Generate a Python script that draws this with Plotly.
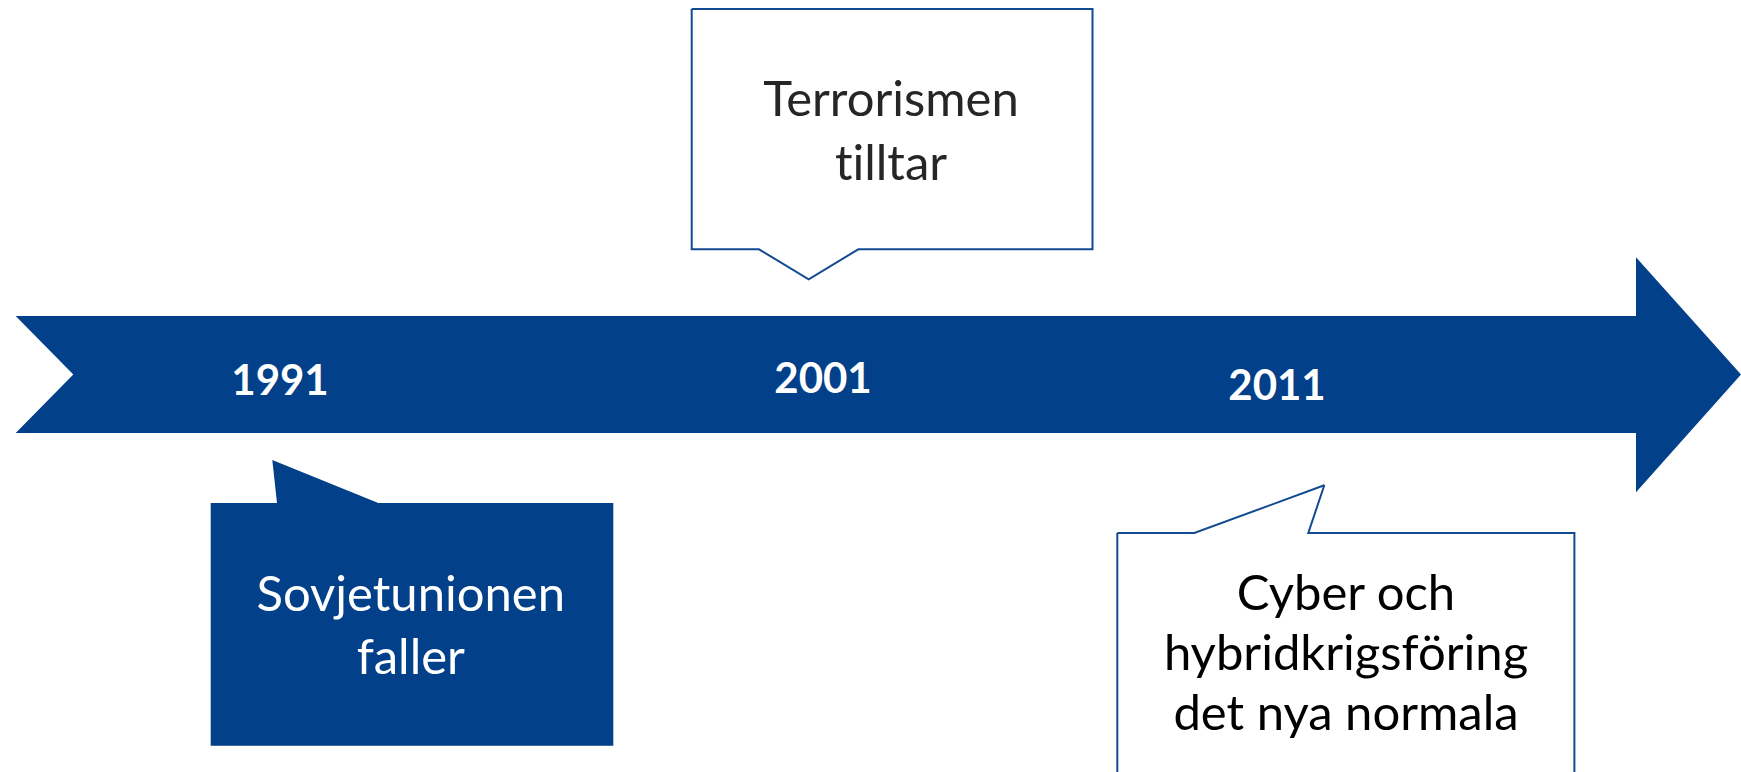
import plotly.graph_objects as go

# ---- data ----
years = ["1991", "2001", "2011"]
events = [
    "Sovjetunionen\nfaller",
    "Terrorismen\ntilltar",
    "Cyber och\nhybridkrigsföring\ndet nya normala",
]
event_styles = ["filled", "outline", "outline"]

# ---- layout constants (pixel canvas) ----
W, H = 1741, 772
BLUE = "#02408A"
EDGE = "#124B91"

# timeline arrow geometry
band_top, band_bot = 316, 433
band_left, notch_x = 15.7, 73.3
shaft_end, head_top, head_bot, tip_x = 1636, 257.3, 492.3, 1741
mid_y = (band_top + band_bot) / 2

year_x = [280, 823, 1277]
year_y = [384, 382, 389]

# callout boxes: (left, top, right, bottom, tail_start_x, tip_x, tip_y, tail_end_x)
boxes = [
    (210.7, 503, 613.3, 745.7, 277, 272.3, 460, 378.3),
    (691.7, 9, 1092.5, 249.3, 759, 808.7, 279.3, 858.3),
    (1117.3, 533, 1574.4, 790, 1194.3, 1324.3, 485.3, 1308.3),
]
text_cx = [410.8, 891, 1346]
text_base = [[612, 675], [117, 181], [610.7, 670.5, 731]]
text_colors = ["#FFFFFF", "#262626", "#000000"]

fig = go.Figure()

# arrow band
ax = [band_left, shaft_end, shaft_end, tip_x, shaft_end, shaft_end, band_left, notch_x, band_left]
ay = [band_top, band_top, head_top, mid_y, head_bot, band_bot, band_bot, mid_y, band_top]
fig.add_trace(go.Scatter(x=ax, y=ay, mode="lines", fill="toself", fillcolor=BLUE,
                         line=dict(width=0, color=BLUE), hoverinfo="skip", showlegend=False))

# callouts
for (l, t, r, b, s0, tx, ty, s1), style in zip(boxes, event_styles):
    if ty < t:  # tail points upward from top edge
        xs = [l, s0, tx, s1, r, r, l, l]
        ys = [t, t, ty, t, t, b, b, t]
    else:  # tail points downward from bottom edge
        xs = [l, r, r, s1, tx, s0, l, l]
        ys = [t, t, b, b, ty, b, b, t]
    if style == "filled":
        fig.add_trace(go.Scatter(x=xs, y=ys, mode="lines", fill="toself", fillcolor=BLUE,
                                 line=dict(width=0, color=BLUE), hoverinfo="skip", showlegend=False))
    else:
        fig.add_trace(go.Scatter(x=xs, y=ys, mode="lines", fill="toself", fillcolor="#FFFFFF",
                                 line=dict(width=2, color=EDGE), hoverinfo="skip", showlegend=False))

# year labels
YS = 42
fig.add_trace(go.Scatter(x=year_x, y=year_y, mode="text", text=[f"<b>{y}</b>" for y in years],
                         textposition="middle center",
                         textfont=dict(family="Lato", size=YS, color="#FFFFFF"),
                         hoverinfo="skip", showlegend=False))

# event texts, one line per point
FS = 49
for ev, cx, bases, col in zip(events, text_cx, text_base, text_colors):
    lines = ev.split("\n")
    fig.add_trace(go.Scatter(x=[cx] * len(lines), y=[bb - 0.27 * FS for bb in bases],
                             mode="text", text=lines, textposition="middle center",
                             textfont=dict(family="Lato", size=FS, color=col),
                             hoverinfo="skip", showlegend=False))

fig.update_layout(
    width=W, height=H,
    margin=dict(l=0, r=0, t=0, b=0),
    paper_bgcolor="#FFFFFF", plot_bgcolor="#FFFFFF",
    xaxis=dict(range=[0, W], visible=False, fixedrange=True),
    yaxis=dict(range=[H, 0], visible=False, fixedrange=True),
    hovermode=False,
)

fig.write_html(
    "out.html", config={"displayModeBar": False},
    post_script=(
        "document.body.style.margin='0';document.body.style.overflow='hidden';"
        "var st=document.createElement('style');"
        "st.textContent='svg text{font-variant-ligatures:none;font-feature-settings:\"liga\" 0;}';"
        "document.head.appendChild(st);"
    ),
)
